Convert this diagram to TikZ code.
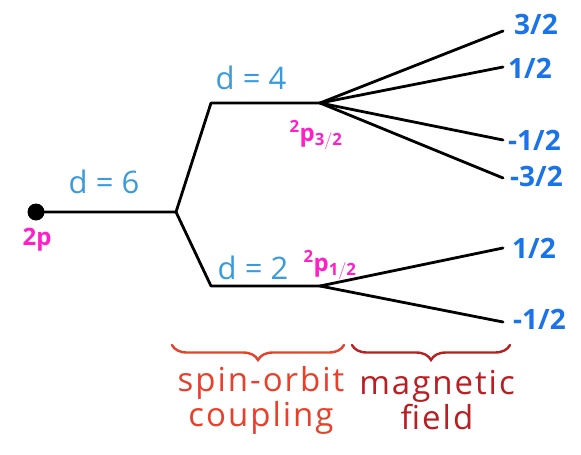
\documentclass[tikz,border=0pt]{standalone}
\usepackage{fontspec}
\setmainfont{Open Sans}
\usetikzlibrary{decorations.pathreplacing}
\definecolor{dblue}{HTML}{3A9BDC}
\definecolor{mblue}{HTML}{1A73E8}
\definecolor{mag}{HTML}{FF1EC8}
\definecolor{sored}{HTML}{E8402A}
\definecolor{mfred}{HTML}{B81E22}
\tikzset{
  lvl/.style={line width=2.8pt, line join=round, line cap=round},
  dlab/.style={text=dblue, font=\fontsize{31}{34}\selectfont, inner sep=0pt},
  mlab/.style={text=mblue, font=\bfseries\fontsize{28}{30}\selectfont, inner sep=0pt, anchor=west},
  tlab/.style={text=mag, font=\bfseries\fontsize{24}{26}\selectfont, inner sep=0pt},
  brc/.style={decorate, decoration={brace, mirror, amplitude=15pt}, line width=2.4pt, line cap=round},
  btxt/.style={font=\fontsize{33}{35}\selectfont\addfontfeature{LetterSpace=6}, align=center, inner sep=0pt}
}
\begin{document}
\begin{tikzpicture}[x=1pt,y=-1pt]
\useasboundingbox (0,0) rectangle (581,455);
\node[circle, fill=black, minimum size=17pt, inner sep=0pt] (p) at (36,212) {};
\coordinate (b) at (176,212);
\coordinate (u0) at (211,103);
\coordinate (u) at (320,103);
\coordinate (l0) at (211,286);
\coordinate (l) at (320,286);
\coordinate (e1) at (503,31);
\coordinate (e2) at (503,67);
\coordinate (e3) at (503,140);
\coordinate (e4) at (503,178);
\coordinate (f1) at (503,248);
\coordinate (f2) at (503,322);
\draw[lvl] (p.center) -- (b) -- (u0) -- (u);
\draw[lvl] (b) -- (l0) -- (l);
\foreach \e in {e1,e2,e3,e4} \draw[lvl] (u) -- (\e);
\foreach \e in {f1,f2} \draw[lvl] (l) -- (\e);
\node[dlab] (d6) at (104,182) {d = 6};
\node[dlab] (d4) at (251,78) {d = 4};
\node[dlab] (d2) at (253,268) {d = 2};
\node[tlab] (t2p) at (37,240) {2p};
\node[tlab] (t32) at (316,135) {$^{\mathbf{2}}$p$_{\mathbf{3/2}}$};
\node[tlab] (t12) at (330,265) {$^{\mathbf{2}}$p$_{\mathbf{1/2}}$};
\node[mlab] (m1) at (514,24) {3/2};
\node[mlab] (m2) at (508,68) {1/2};
\node[mlab] (m3) at (508,140) {-1/2};
\node[mlab] (m4) at (510,176) {-3/2};
\node[mlab] (m5) at (512,248) {1/2};
\node[mlab] (m6) at (513,319) {-1/2};
\draw[brc, sored] (172,345) -- (344,345);
\draw[brc, mfred] (352,345) -- (510,345);
\node[btxt, text=sored] (so) at (261,400) {spin-orbit\\coupling};
\node[btxt, text=mfred] (mf) at (437,400) {magnetic\\field};
\end{tikzpicture}
\end{document}
